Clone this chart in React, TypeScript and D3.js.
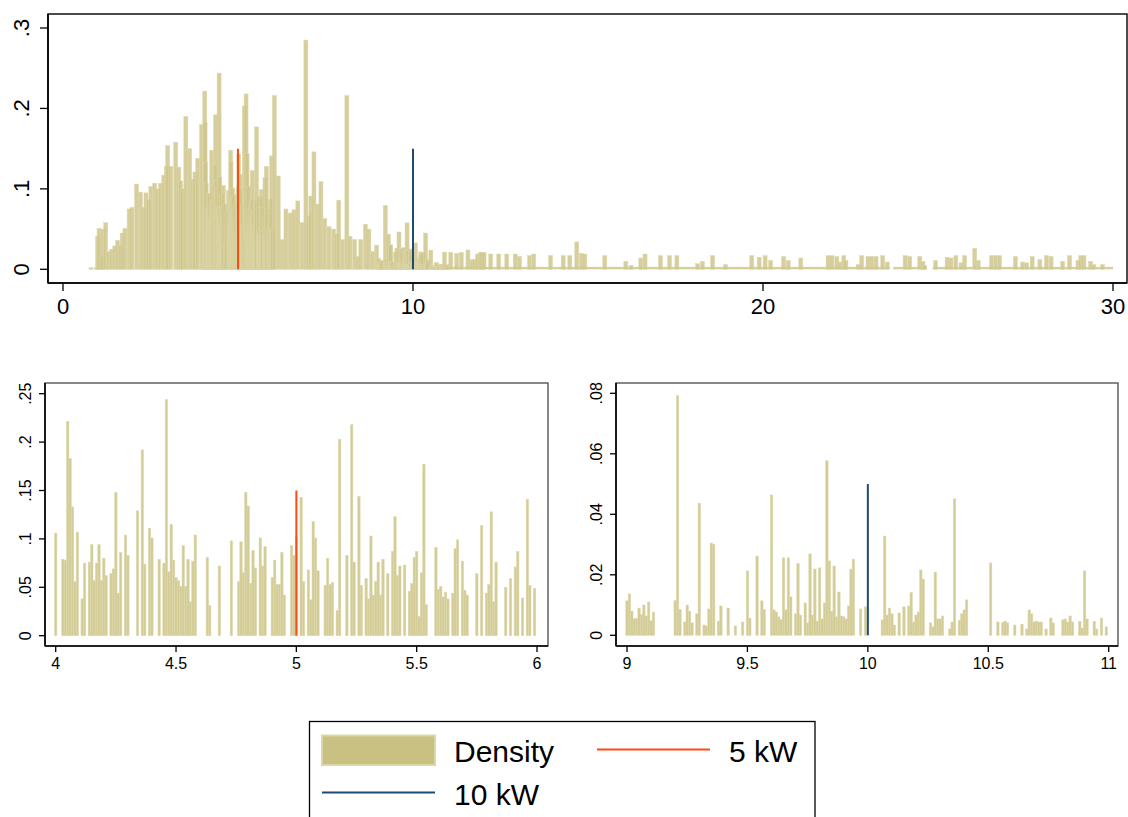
import React from "react";
import * as d3 from "d3";

type Bin = [number, number];

// Density per 0.01 kW bin, 4–6 kW
const bins4to6: Bin[] = [
  [4.00,.106],[4.03,.079],[4.04,.078],[4.05,.2215],[4.06,.183],[4.07,.133],[4.08,.056],[4.09,.107],[4.11,.038],[4.12,.075],
  [4.14,.076],[4.15,.094],[4.16,.057],[4.17,.075],[4.18,.094],[4.19,.057],[4.20,.080],[4.21,.062],[4.23,.064],[4.24,.069],
  [4.25,.148],[4.26,.044],[4.27,.086],[4.29,.104],[4.30,.083],[4.34,.129],[4.36,.192],[4.37,.074],[4.39,.111],[4.40,.101],
  [4.43,.079],[4.45,.075],[4.46,.244],[4.47,.066],[4.48,.115],[4.49,.078],[4.50,.060],[4.51,.057],[4.52,.051],[4.53,.093],
  [4.54,.051],[4.55,.079],[4.56,.035],[4.57,.077],[4.58,.104],[4.63,.081],[4.64,.031],[4.68,.072],[4.73,.098],[4.76,.056],
  [4.77,.097],[4.78,.065],[4.79,.148],[4.80,.134],[4.81,.054],[4.82,.088],[4.83,.070],[4.85,.101],[4.86,.072],[4.87,.092],
  [4.90,.060],[4.91,.078],[4.92,.053],[4.93,.053],[4.94,.086],[4.95,.042],[4.98,.093],[4.99,.083],
  [5.00,.102],[5.02,.143],[5.03,.056],[5.05,.068],[5.06,.037],[5.07,.118],[5.08,.101],[5.09,.067],[5.12,.052],[5.13,.080],
  [5.14,.053],[5.15,.055],[5.17,.026],[5.18,.203],[5.21,.083],[5.23,.218],[5.24,.076],[5.26,.144],[5.27,.052],[5.29,.059],
  [5.30,.038],[5.31,.103],[5.32,.042],[5.33,.056],[5.34,.076],[5.35,.042],[5.36,.079],[5.38,.064],[5.40,.087],[5.41,.123],
  [5.42,.062],[5.43,.072],[5.45,.073],[5.47,.046],[5.48,.054],[5.49,.081],[5.50,.087],[5.51,.020],[5.52,.065],[5.53,.177],
  [5.54,.032],[5.58,.091],[5.59,.048],[5.60,.051],[5.61,.040],[5.62,.045],[5.63,.038],[5.65,.044],[5.66,.090],[5.67,.099],
  [5.69,.077],[5.70,.047],[5.71,.042],[5.75,.064],[5.77,.114],[5.79,.044],[5.80,.053],[5.81,.128],[5.82,.035],[5.83,.076],
  [5.87,.050],[5.89,.059],[5.91,.071],[5.92,.087],[5.94,.039],[5.96,.141],[5.97,.052],[5.99,.049],
];

// Density per 0.01 kW bin, 9–11 kW
const bins9to11: Bin[] = [
  [9.00,.0114],[9.01,.0137],[9.02,.0080],[9.03,.0055],[9.04,.0055],[9.05,.0090],[9.06,.0068],[9.07,.0100],[9.08,.0064],[9.09,.0110],
  [9.10,.0048],[9.11,.0077],[9.20,.0115],[9.21,.0792],[9.22,.0086],[9.24,.0044],[9.25,.0100],[9.26,.0080],[9.27,.0041],[9.29,.0071],
  [9.30,.0437],[9.32,.0034],[9.33,.0031],[9.34,.0087],[9.35,.0305],[9.36,.0301],[9.38,.0047],[9.39,.0097],[9.42,.0090],[9.45,.0031],
  [9.48,.0044],[9.50,.0213],[9.51,.0057],[9.54,.0262],[9.56,.0114],[9.57,.0085],[9.60,.0464],[9.61,.0084],[9.62,.0077],[9.63,.0061],
  [9.64,.0052],[9.65,.0256],[9.66,.0084],[9.67,.0256],[9.68,.0127],[9.70,.0071],[9.71,.0237],[9.72,.0067],[9.74,.0107],[9.75,.0041],
  [9.76,.0269],[9.77,.0067],[9.78,.0219],[9.79,.0047],[9.80,.0223],[9.81,.0054],[9.82,.0107],[9.83,.0577],[9.84,.0246],[9.85,.0080],
  [9.86,.0229],[9.87,.0061],[9.88,.0143],[9.89,.0064],[9.90,.0061],[9.91,.0054],[9.92,.0097],[9.93,.0219],[9.94,.0252],[9.97,.0087],
  [9.99,.0094],[10.06,.0051],[10.07,.0328],[10.08,.0067],[10.09,.0090],[10.10,.0071],[10.11,.0034],[10.13,.0074],[10.15,.0094],[10.17,.0097],
  [10.18,.0142],[10.19,.0044],[10.20,.0067],[10.21,.0077],[10.22,.0216],[10.23,.0186],[10.26,.0041],[10.27,.0028],[10.28,.0209],[10.29,.0054],
  [10.30,.0054],[10.31,.0064],[10.34,.0021],[10.35,.0044],[10.36,.0451],[10.38,.0050],[10.39,.0071],[10.40,.0084],[10.41,.0117],[10.51,.0239],
  [10.54,.0044],[10.56,.0043],[10.57,.0047],[10.58,.0041],[10.61,.0034],[10.64,.0037],[10.66,.0021],[10.67,.0084],[10.68,.0071],[10.69,.0044],
  [10.70,.0047],[10.71,.0044],[10.72,.0044],[10.74,.0021],[10.76,.0057],[10.77,.0041],[10.81,.0051],[10.82,.0054],[10.83,.0044],[10.84,.0064],
  [10.85,.0044],[10.88,.0046],[10.89,.0024],[10.90,.0213],[10.91,.0054],[10.94,.0046],[10.95,.0021],[10.97,.0057],[10.99,.0028],
];

// Overview-only readings (upper panel) outside the zoomed windows
const overviewLow: Bin[] = [
  [0.80,.002],[0.96,.002],[0.99,.041],[1.03,.051],[1.09,.016],[1.14,.050],[1.22,.058],[1.30,.022],[1.39,.025],[1.48,.029],
  [1.56,.036],[1.64,.030],[1.69,.045],[1.77,.051],[1.89,.075],[1.97,.077],[2.10,.106],[2.21,.096],[2.29,.077],[2.37,.095],
  [2.44,.087],[2.51,.103],[2.62,.107],[2.71,.100],[2.79,.107],[2.88,.117],[2.95,.128],[2.99,.154],[3.08,.128],[3.22,.158],
  [3.31,.127],[3.36,.110],[3.42,.100],[3.51,.190],[3.62,.150],[3.71,.112],[3.77,.121],[3.85,.138],[3.96,.180],
];
const overviewMid: Bin[] = [
  [6.04,.216],[6.15,.116],[6.26,.037],[6.37,.075],[6.49,.070],[6.60,.074],[6.71,.085],[6.83,.058],[6.94,.285],[7.02,.067],
  [7.08,.091],[7.17,.146],[7.28,.081],[7.37,.109],[7.48,.063],[7.60,.053],[7.73,.050],[7.82,.044],[7.88,.086],[7.99,.037],
  [8.11,.216],[8.20,.041],[8.33,.037],[8.42,.016],[8.51,.037],[8.64,.056],[8.74,.050],[8.85,.022],[8.96,.030],
];
const overviewHigh: Bin[] = [
  [11.08,.021],[11.25,.020],[11.38,.021],[11.57,.024],[11.68,.012],[11.76,.012],[11.84,.019],[11.92,.021],[11.97,.021],[12.03,.021],
  [12.22,.019],[12.45,.019],[12.68,.019],[12.92,.019],[13.04,.016],[13.33,.017],[13.45,.019],[13.93,.017],[14.29,.017],[14.48,.017],
  [14.68,.034],[14.81,.020],[14.91,.019],[15.48,.017],[16.08,.010],[16.23,.005],[16.51,.014],[16.63,.019],[17.07,.017],[17.33,.017],
  [17.54,.017],[18.13,.007],[18.27,.010],[18.56,.017],[18.93,.006],[19.68,.017],[19.89,.015],[20.06,.017],[20.22,.011],[20.59,.016],
  [20.72,.011],[21.08,.014],[21.86,.017],[21.97,.017],[22.11,.016],[22.20,.009],[22.31,.017],[22.37,.011],[22.72,.006],[22.82,.017],
  [23.00,.016],[23.11,.016],[23.23,.016],[23.42,.017],[23.55,.009],[24.06,.017],[24.19,.016],[24.48,.016],[24.57,.010],[24.62,.005],
  [24.93,.011],[25.26,.015],[25.37,.014],[25.51,.017],[25.66,.008],[25.76,.017],[26.05,.026],[26.15,.011],[26.53,.017],[26.65,.017],
  [26.76,.017],[27.21,.016],[27.42,.009],[27.53,.008],[27.69,.016],[27.91,.012],[28.10,.017],[28.23,.016],[28.56,.010],[28.76,.017],
  [29.00,.011],[29.08,.017],[29.17,.017],[29.36,.010],[29.45,.006],[29.70,.006],
];
// Runs of very small densities forming the low band above 11 kW: [from, to, density]
const lowRuns: [number, number, number][] = [
  [11.0, 23.62, .003], [23.72, 24.68, .003], [24.85, 30.0, .003],
];

const topXTicks = [0, 10, 20, 30];
const topYTicks = [0, 0.1, 0.2, 0.3];
const leftXTicks = [4, 4.5, 5, 5.5, 6];
const leftYTicks = [0, 0.05, 0.1, 0.15, 0.2, 0.25];
const rightXTicks = [9, 9.5, 10, 10.5, 11];
const rightYTicks = [0, 0.02, 0.04, 0.06, 0.08];

const RED = "#ff4a12";
const BLUE = "#1f4a73";
const refLines = [
  { kw: 5, label: "5 kW", color: RED },
  { kw: 10, label: "10 kW", color: BLUE },
];
const densityLabel = "Density";

const FONT = "'Liberation Sans', Arial, Helvetica, sans-serif";
const BAR_FILL = "#cfc68c";
const BAR_STROKE = "#ddd8ac";

const fmt = (v: number) => d3.format("~g")(v).replace(/^0\./, ".");

type Frame = { l: number; t: number; r: number; b: number };

function Panel(props: {
  frame: Frame;
  x: d3.ScaleLinear<number, number>;
  y: d3.ScaleLinear<number, number>;
  xTicks: number[];
  yTicks: number[];
  bins: Bin[];
  barW: number;
  runs?: [number, number, number][];
  refs: { kw: number; color: string }[];
  refH: number;
  fs: number;
  tickLen: number;
  xLabelY: number;
  yLabelX: number;
  opacity: number;
  frameColor: string;
}) {
  const { frame, x, y, xTicks, yTicks, bins, barW, runs, refs, refH, fs, tickLen, xLabelY, yLabelX, opacity, frameColor } = props;
  const y0 = y(0);
  return (
    <g>
      {runs &&
        runs.map(([a, b, d], i) => (
          <rect key={"r" + i} x={x(a)} y={y(d)} width={x(b) - x(a)} height={y0 - y(d)} fill={BAR_FILL} fillOpacity={opacity} />
        ))}
      {bins.map(([k, d], i) => (
        <rect
          key={i}
          x={x(k) - barW / 2}
          y={y(d)}
          width={barW}
          height={y0 - y(d)}
          fill={BAR_FILL}
          fillOpacity={opacity}
          stroke={BAR_STROKE}
          strokeWidth={0.5}
        />
      ))}
      {refs.map((r, i) => (
        <line key={"l" + i} x1={x(r.kw)} x2={x(r.kw)} y1={y0} y2={y(refH)} stroke={r.color} strokeWidth={2} />
      ))}
      <rect x={frame.l} y={frame.t} width={frame.r - frame.l} height={frame.b - frame.t} fill="none" stroke={frameColor} strokeWidth={1.4} />
      <line x1={frame.l} x2={frame.l} y1={frame.t} y2={frame.b} stroke="#000" strokeWidth={1.6} />
      <line x1={frame.l} x2={frame.r} y1={frame.b} y2={frame.b} stroke="#000" strokeWidth={1.6} />
      {xTicks.map((t) => (
        <g key={"xt" + t}>
          <line x1={x(t)} x2={x(t)} y1={frame.b} y2={frame.b + tickLen} stroke="#000" strokeWidth={1.3} />
          <text x={x(t)} y={xLabelY} textAnchor="middle" fontSize={fs} fontFamily={FONT} fill="#000">
            {fmt(t)}
          </text>
        </g>
      ))}
      {yTicks.map((t) => (
        <g key={"yt" + t}>
          <line x1={frame.l - tickLen} x2={frame.l} y1={y(t)} y2={y(t)} stroke="#000" strokeWidth={1.3} />
          <text
            transform={`translate(${yLabelX},${y(t)}) rotate(-90)`}
            textAnchor="middle"
            fontSize={fs}
            fontFamily={FONT}
            fill="#000"
          >
            {fmt(t)}
          </text>
        </g>
      ))}
    </g>
  );
}

export default function App() {
  const allBins: Bin[] = [...overviewLow, ...bins4to6, ...overviewMid, ...bins9to11, ...overviewHigh];

  const topX = d3.scaleLinear().domain([0, 30]).range([63, 1113]);
  const topY = d3.scaleLinear().domain([0, 0.3]).range([269.3, 28]);
  const leftX = d3.scaleLinear().domain([4, 6]).range([55.7, 537]);
  const leftY = d3.scaleLinear().domain([0, 0.25]).range([635.7, 393.7]);
  const rightX = d3.scaleLinear().domain([9, 11]).range([627, 1108.7]);
  const rightY = d3.scaleLinear().domain([0, 0.08]).range([635.3, 393.3]);

  const lw = leftX(4.01) - leftX(4);
  const rw = rightX(9.01) - rightX(9);

  return (
    <svg
      width={1128}
      height={817}
      viewBox="0 0 1128 817"
      style={{ position: "absolute", left: 0, top: 0, background: "#fff" }}
    >
      <rect x={0} y={0} width={1128} height={817} fill="#fff" />
      <Panel
        frame={{ l: 48, t: 14, r: 1127, b: 283 }}
        x={topX}
        y={topY}
        xTicks={topXTicks}
        yTicks={topYTicks}
        bins={allBins}
        barW={4}
        runs={lowRuns}
        refs={refLines}
        refH={0.15}
        fs={22}
        tickLen={8}
        xLabelY={314}
        yLabelX={29}
        opacity={0.85}
        frameColor="#000"
      />
      <Panel
        frame={{ l: 45, t: 383, r: 548, b: 646 }}
        x={leftX}
        y={leftY}
        xTicks={leftXTicks}
        yTicks={leftYTicks}
        bins={bins4to6}
        barW={lw}
        refs={[refLines[0]]}
        refH={0.15}
        fs={16}
        tickLen={6}
        xLabelY={669}
        yLabelX={31}
        opacity={0.9}
        frameColor="#555"
      />
      <Panel
        frame={{ l: 616, t: 383, r: 1118, b: 646 }}
        x={rightX}
        y={rightY}
        xTicks={rightXTicks}
        yTicks={rightYTicks}
        bins={bins9to11}
        barW={rw}
        refs={[refLines[1]]}
        refH={0.05}
        fs={16}
        tickLen={6}
        xLabelY={669}
        yLabelX={602}
        opacity={0.9}
        frameColor="#555"
      />
      {/* Legend */}
      <g fontFamily={FONT} fill="#000">
        <rect x={309.5} y={721.5} width={505.5} height={110} fill="#fff" stroke="#000" strokeWidth={1.3} />
        <rect x={322} y={735.5} width={113} height={29.5} fill="#c9c182" stroke="#dcd7a6" strokeWidth={2} />
        <text x={454} y={762} fontSize={30}>{densityLabel}</text>
        <line x1={597} x2={710} y1={749.5} y2={749.5} stroke={refLines[0].color} strokeWidth={2} />
        <text x={729} y={762} fontSize={30}>{refLines[0].label}</text>
        <line x1={322} x2={435} y1={792.5} y2={792.5} stroke={refLines[1].color} strokeWidth={2} />
        <text x={454} y={805} fontSize={30}>{refLines[1].label}</text>
      </g>
    </svg>
  );
}
